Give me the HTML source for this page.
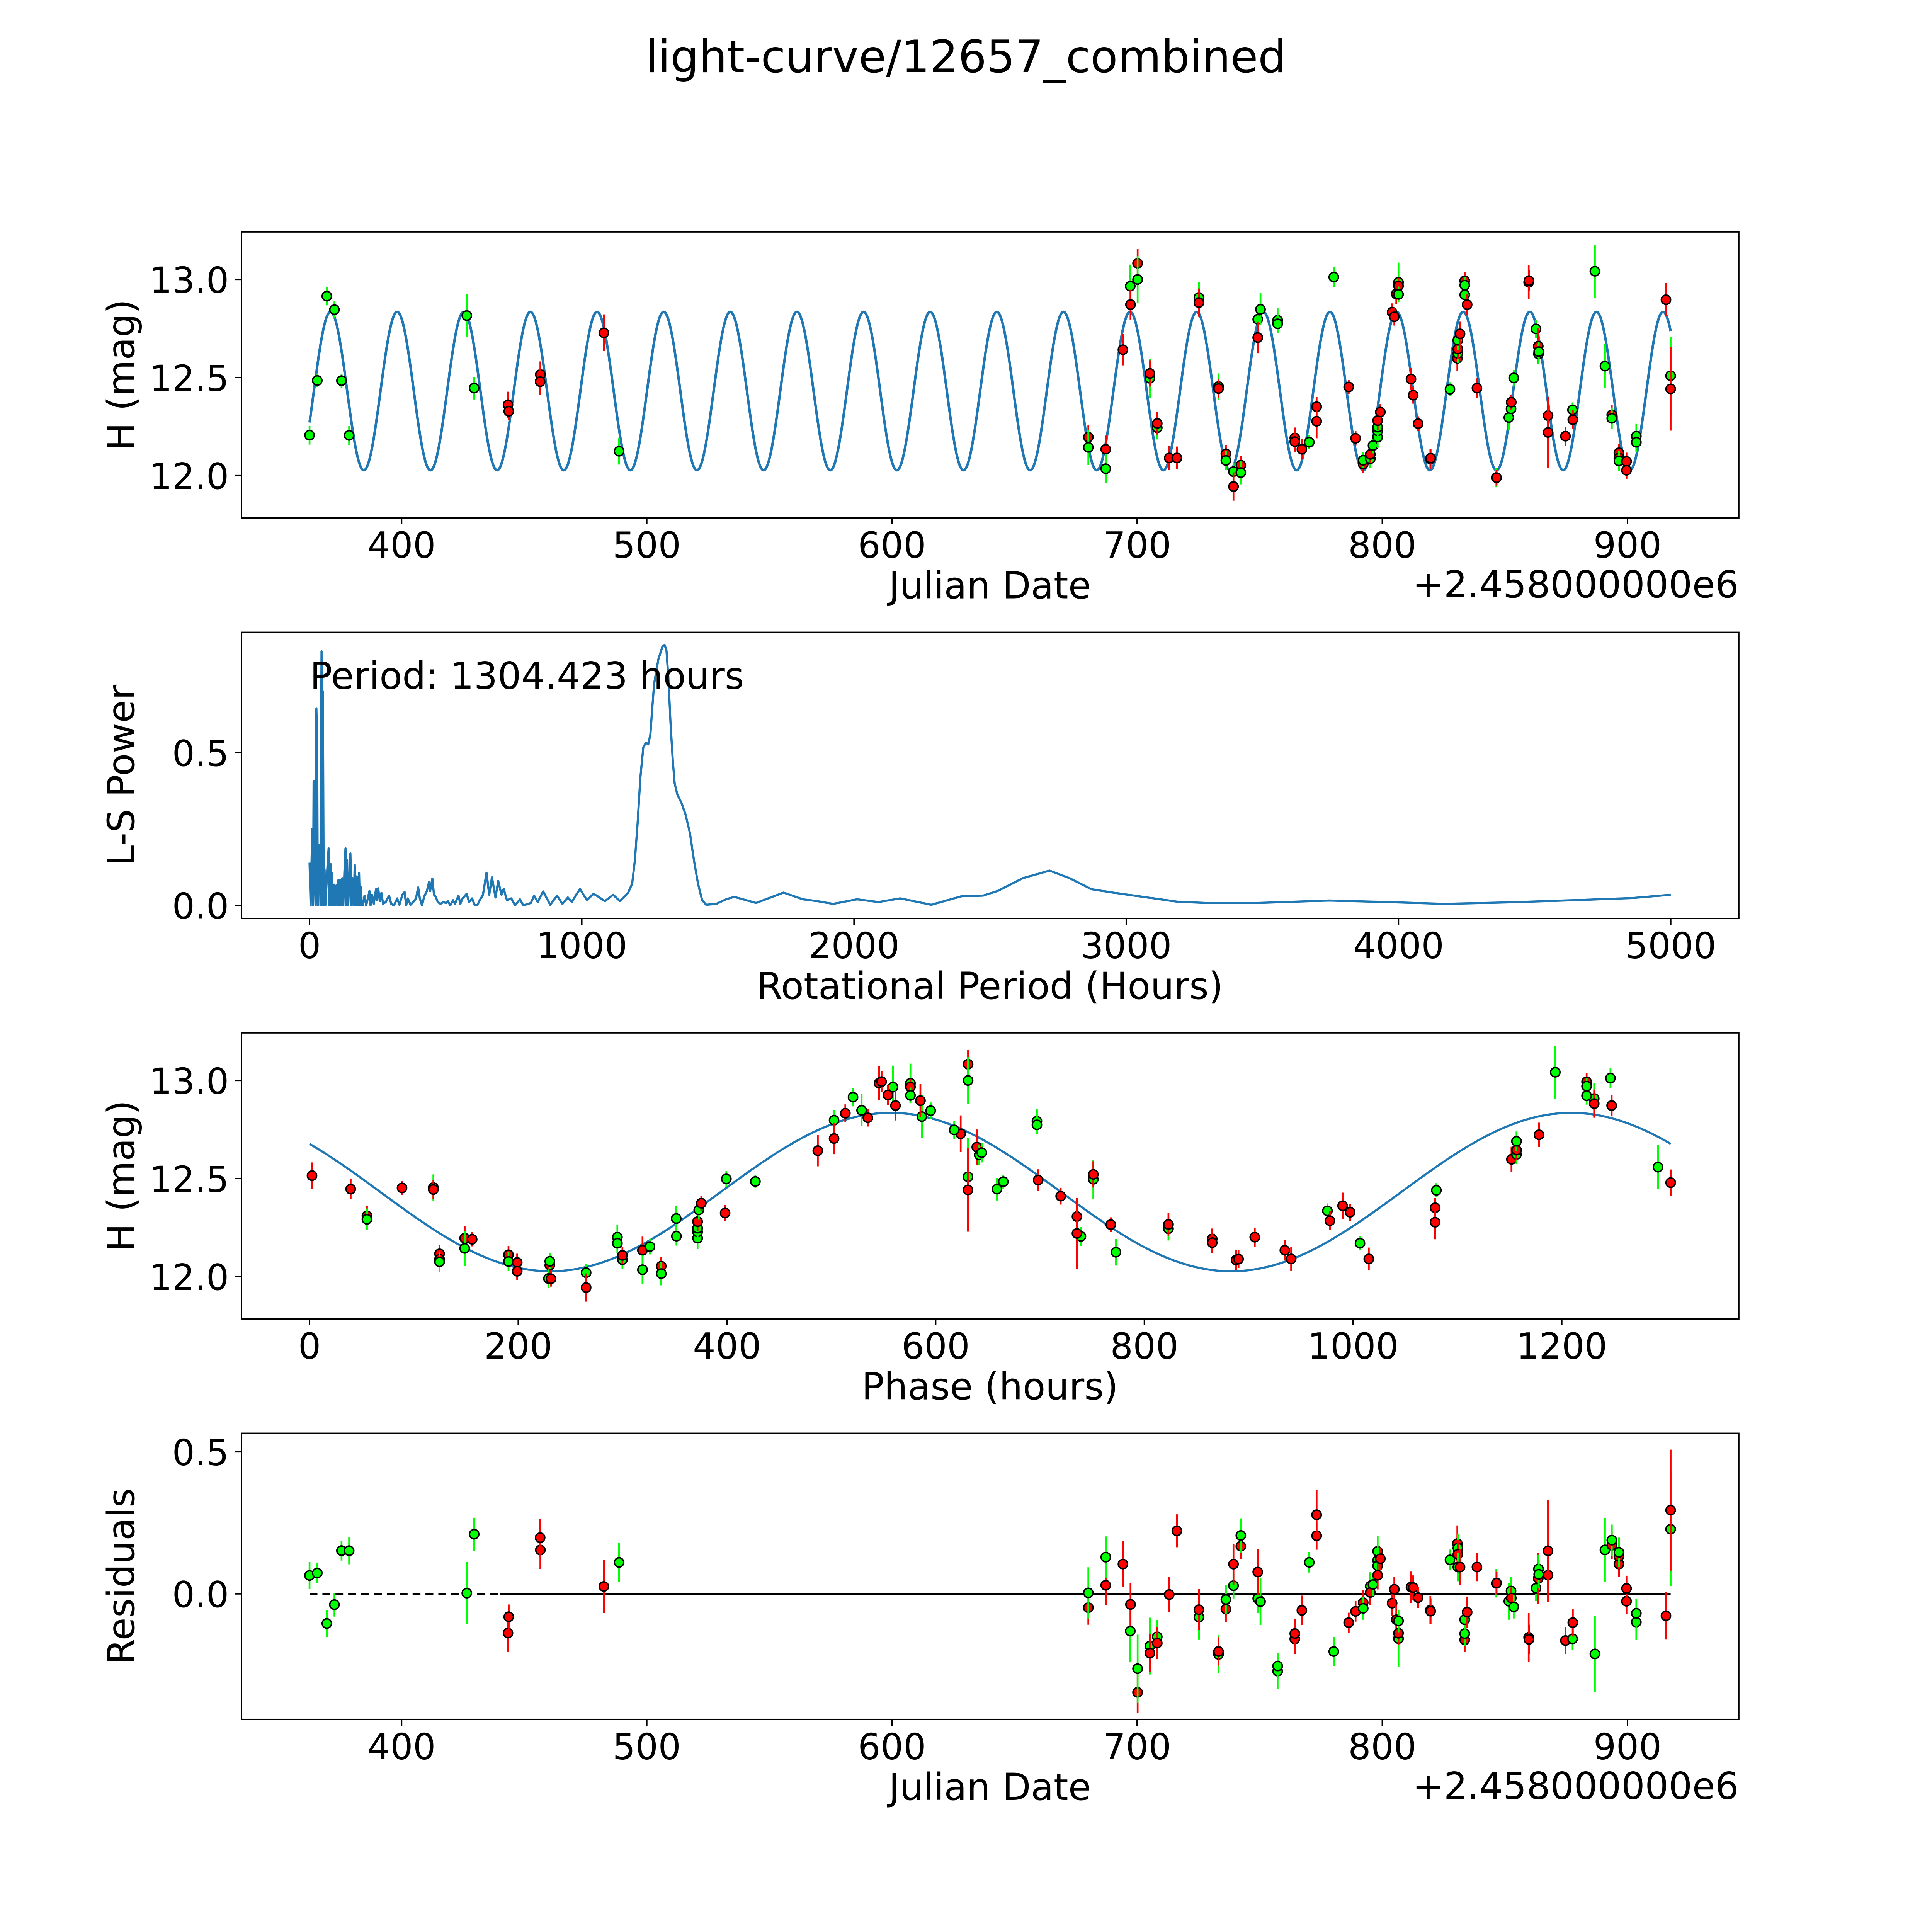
<!DOCTYPE html>
<html><head><meta charset="utf-8"><style>
html,body{margin:0;padding:0;background:#fff;overflow:hidden;width:100%;height:100%;}
svg{display:block;width:100vw;height:100vh;}
text{font-family:"DejaVu Sans","Liberation Sans",sans-serif;fill:#000;}
</style></head><body>
<svg id="fig" xmlns="http://www.w3.org/2000/svg" viewBox="0 0 5400 5400" preserveAspectRatio="xMidYMid meet">
<rect x="0" y="0" width="5400" height="5400" fill="#fff"/>
<text x="2700" y="202" font-size="125" text-anchor="middle">light-curve/12657_combined</text>
</svg>
<script>
// ---- light curve data (JD offset from 2458000) ----
const jd = [362.45,365.6,369.5,372.6,375.5,378.6,426.6,429.6,443.4,443.7,456.6,456.5,482.5,488.7,
680.1,680.1,687.2,687.2,694.2,697.2,697.3,700.2,700.2,705.2,705.2,708.2,708.2,713.1,716.2,725.2,725.2,
733.2,733.2,736.2,736.2,739.3,739.3,742.3,742.3,749.2,749.2,750.3,757.3,757.3,764.3,764.3,767.2,770.2,
773.2,773.2,780.2,786.3,789.1,792.2,792.2,795.1,795.1,796.2,798.1,798.1,798.1,798.1,799.2,804.0,804.9,
805.7,806.6,806.6,806.6,811.7,812.6,814.6,819.6,819.7,827.6,830.6,830.8,830.8,830.8,831.7,833.6,833.6,
833.6,834.6,838.6,846.5,846.6,851.6,852.5,852.6,853.6,859.7,859.8,862.7,863.6,863.7,863.8,867.6,867.6,
874.7,877.6,877.7,886.7,890.8,893.6,893.6,896.5,896.5,896.5,899.6,899.6,903.6,903.6,915.7,917.6,917.6];
const mag = [12.206,12.485,12.915,12.846,12.484,12.205,12.816,12.446,12.361,12.328,12.515,12.479,12.728,12.124,
12.196,12.144,12.134,12.035,12.642,12.966,12.872,13.083,13.0,12.496,12.521,12.244,12.266,12.09,12.09,12.908,12.882,
12.454,12.444,12.111,12.077,12.02,11.944,12.053,12.015,12.797,12.704,12.848,12.792,12.774,12.192,12.173,12.134,12.17,
12.351,12.277,13.012,12.452,12.19,12.058,12.078,12.086,12.108,12.153,12.196,12.228,12.247,12.28,12.324,12.833,12.81,
12.926,12.986,12.967,12.924,12.492,12.41,12.265,12.085,12.089,12.44,12.598,12.623,12.645,12.69,12.723,12.993,12.971,
12.922,12.872,12.446,11.99,11.989,12.296,12.34,12.374,12.498,12.986,12.994,12.748,12.66,12.62,12.632,12.306,12.22,
12.201,12.335,12.285,13.042,12.558,12.31,12.292,12.116,12.089,12.075,12.072,12.027,12.201,12.17,12.897,12.509,12.442];
const magErr = [0.048,0.034,0.047,0.042,0.035,0.048,0.11,0.058,0.067,0.043,0.067,0.067,0.094,0.068,
0.06,0.09,0.07,0.073,0.08,0.11,0.076,0.073,0.12,0.1,0.067,0.06,0.057,0.062,0.058,0.08,0.072,
0.067,0.05,0.045,0.05,0.045,0.072,0.045,0.06,0.052,0.08,0.082,0.064,0.046,0.053,0.052,0.052,0.036,
0.049,0.087,0.051,0.035,0.036,0.043,0.04,0.049,0.045,0.04,0.055,0.05,0.05,0.05,0.04,0.045,0.045,
0.05,0.1,0.04,0.04,0.055,0.043,0.037,0.05,0.045,0.036,0.064,0.05,0.05,0.05,0.062,0.043,0.043,
0.045,0.055,0.05,0.05,0.04,0.065,0.05,0.037,0.041,0.086,0.052,0.045,0.09,0.05,0.05,0.048,0.18,
0.048,0.038,0.049,0.134,0.112,0.048,0.055,0.046,0.045,0.052,0.045,0.045,0.063,0.05,0.084,0.2,0.213];
const band = "ggggggggrrrrrgrgrgrgrrgg" + "rgrrrgrgrrggrrggrgggrrrgrrgrrrggrggggrrrrrgrgrrrrrgrgrgrrggrrgrggrgrrgrggrrrgrggrgrrgrrggrgrrgrr";
// ---- periodogram data ----
const lsPeriod = [0,4,8,10,13,15,18,22,25,28,30,32,36,40,44,47,49,52,55,58,62,66,70,73,77,80,82,86,90,94,98,102,106,110,112,116,120,124,128,132,135,138,142,146,150,154,158,162,166,170,174,178,182,185,189,192,
196,202,208,214,220,224,230,236,244,248,252,258,264,270,280,292,300,310,322,330,341,349,355,361,371,381,391,399,405,413,421,431,439,443,451,457,463,471,481,491,501,508,517,527,534,547,554,562,577,586,597,607,617,627,637,650,660,670,683,693,705,713,725,741,755,773,785,803,813,825,838,858,884,909,929,949,964,979,994,1004,1019,1043,1060,1085,1115,1140,1170,1185,1195,1205,1215,1226,1236,1244,1252,1258,1266,1281,1296,1304,1311,1318,1326,1334,1341,1351,1366,1381,1397,1412,1427,1442,1457,1494,
1530,1560,1640,1741,1812,1865,1923,2011,2090,2170,2284,2395,2474,2527,2620,2718,2792,2872,2951,3030,3189,3295,3481,3746,3957,4169,4408,4673,4858,5000];
const lsPower = [0.14,0,0.17,0.25,0,0.408,0.148,0,0.644,0.536,0,0.154,0.199,0,0.832,0,0.7,0,0.118,0,0.065,0.13,0.187,0,0.136,0,0.107,0,0.068,0,0.065,0,0.083,0,0.083,0,0.089,0,0.107,0.187,0,0.148,0,0.089,0.17,0,0.089,0,0.133,0,0.095,0,0.107,0,0.059,0,
0,0.032,0,0.023,0.047,0,0.035,0.005,0.053,0.017,0.056,0.014,0.041,0.005,0.011,0.032,0.005,0,0.023,0.002,0.035,0.044,0,0.023,0.002,0.011,0.023,0.059,0.023,0,0.029,0.047,0.077,0.047,0.088,0.035,0.029,0.011,0.005,0.011,0.008,0.014,0,0.017,0.005,0.032,0.005,0.023,0.038,0.011,0.023,0,0.002,0.02,0.035,0.107,0.035,0.092,0.026,0.08,0.035,0.054,0.017,0.023,0,0.02,0,0.005,0.008,0.032,0.011,0.046,0.002,0.032,0.005,0.026,0.011,0.035,0.054,0.038,0.017,0.038,0.029,0.014,0.035,0.014,0.041,0.071,0.148,0.268,0.417,0.518,0.533,0.527,0.56,0.638,0.727,0.805,0.847,0.853,0.835,0.745,0.596,0.477,0.4,0.363,0.336,0.298,0.238,0.148,0.071,0.017,0.002,0.005,
0.02,0.028,0.008,0.042,0.02,0.014,0.005,0.02,0.011,0.023,0.002,0.03,0.032,0.047,0.089,0.114,0.089,0.053,0.042,0.032,0.012,0.008,0.008,0.016,0.011,0.005,0.01,0.018,0.024,0.035];
// ---- tick labels ----
const jdTicks = [400,500,600,700,800,900];
const magTicks = [12.0,12.5,13.0];
const lsXTicks = [0,1000,2000,3000,4000,5000];
const lsYTicks = [0.0,0.5];
const phaseTicks = [0,200,400,600,800,1000,1200];
const resTicks = [0.0,0.5];
// ---- model parameters ----
const foldPeriod = 1304.423, modelPeriod = 652.2115, T0 = 347.8, peakPhase = 557, modelMean = 12.431, modelAmp = 0.404;

const NS = "http://www.w3.org/2000/svg";
const svg = document.getElementById('fig');
const L = 675, W = 4185, H = 799.6;
const tops = [648, 1767.4, 2886.8, 4006.2];
function el(tag, attrs, parent){ const e=document.createElementNS(NS,tag); for(const k in attrs) e.setAttribute(k,attrs[k]); (parent||svg).appendChild(e); return e; }
const xJ = v => L + (v-334.7)/(945.4-334.7)*W;
const yM = (v,t) => t + (13.243-v)/(13.243-11.784)*H;
const xLS = v => L + (v+250)/5500*W;
const yLS = v => tops[1] + (0.894-v)/(0.894+0.0426)*H;
const xPh = v => L + (v+65.22)/1434.86*W;
const yR = v => tops[3] + (0.565-v)/1.007*H;
function model(t){ return modelMean + modelAmp*Math.cos(2*Math.PI*((t-T0)*24 - peakPhase)/modelPeriod); }
function modelPh(p){ return modelMean + modelAmp*Math.cos(2*Math.PI*(p - peakPhase)/modelPeriod); }
const colOf = c => c==='r' ? '#ff0000' : '#00ff00';

function clip(i){
  const cp = el('clipPath',{id:'clip'+i});
  el('rect',{x:L,y:tops[i],width:W,height:H},cp);
  const g = el('g',{'clip-path':'url(#clip'+i+')'});
  return g;
}
function frame(i, name){
  const r = el('rect',{x:L,y:tops[i],width:W,height:H,fill:'none',stroke:'#000','stroke-width':4});
  
  
}
function xticks(i, ticks, fx, fmt, name){
  const b = tops[i]+H;
  ticks.forEach(v=>{
    const x = fx(v);
    const tk = el('line',{x1:x,x2:x,y1:b,y2:b+17.5,stroke:'#000','stroke-width':4});
    
    
    const t = el('text',{x:x,y:b+111,'font-size':100,'text-anchor':'middle'});
    t.textContent = fmt(v);
    
    
  });
}
function yticks(ticks, fy, fmt, name){
  ticks.forEach(v=>{
    const y = fy(v);
    const tk = el('line',{x1:L-17.5,x2:L,y1:y,y2:y,stroke:'#000','stroke-width':4});
    
    
    const t = el('text',{x:640,y:y+37,'font-size':100,'text-anchor':'end'});
    t.textContent = fmt(v);
    
    
  });
}
function label(x,y,txt,name,rot,anchor){
  const t = el('text',{x:x,y:y,'font-size':104,'text-anchor':anchor||'middle'});
  if(rot) t.setAttribute('transform','rotate(-90 '+x+' '+y+')');
  t.textContent = txt;
  
  
}
function point(g, x, y, ylo, yhi, c, name){
  const e = el('line',{x1:x,x2:x,y1:ylo,y2:yhi,stroke:colOf(c),'stroke-width':5},g);
  
  
  const m = el('circle',{cx:x,cy:y,r:13,fill:colOf(c),stroke:'#000','stroke-width':4},g);
  
  
}
function polyline(g, pts, color, w, name, dash){
  const p = el('polyline',{points:pts.map(q=>q[0].toFixed(1)+','+q[1].toFixed(1)).join(' '),fill:'none',stroke:color,'stroke-width':w,'stroke-linejoin':'round'},g);
  if(dash) p.setAttribute('stroke-dasharray',dash);
  
  
}
const fmt1 = v => v.toFixed(1), fmt0 = v => String(v);
const jdMin = Math.min(...jd), jdMax = Math.max(...jd);

// ---- Panel 1: light curve vs JD ----
{
  const g = clip(0);
  const pts=[]; for(let i=0;i<=3000;i++){ const t=jdMin+(jdMax-jdMin)*i/3000; pts.push([xJ(t), yM(model(t),tops[0])]); }
  polyline(g, pts, '#1f77b4', 7, 'model-curve');
  jd.forEach((t,i)=> point(g, xJ(t), yM(mag[i],tops[0]), yM(mag[i]+magErr[i],tops[0]), yM(mag[i]-magErr[i],tops[0]), band[i], 'lc-'+(band[i]==='r'?'r':'g')));
  frame(0,'lightcurve-axes');
  xticks(0, jdTicks, xJ, fmt0, 'lc-x');
  yticks(magTicks, v=>yM(v,tops[0]), fmt1, 'lc-y');
  label(2767, tops[0]+H+225, 'Julian Date', 'lc-x-axis-title');
  label(4860, tops[0]+H+222, '+2.458000000e6', 'lc-x-offset', false, 'end');
  label(375, tops[0]+H/2, 'H (mag)', 'lc-y-axis-title', true);
}
// ---- Panel 2: periodogram ----
{
  const g = clip(1);
  polyline(g, lsPeriod.map((p,i)=>[xLS(p), yLS(lsPower[i])]), '#1f77b4', 6, 'periodogram-line');
  frame(1,'periodogram-axes');
  xticks(1, lsXTicks, xLS, fmt0, 'ls-x');
  yticks(lsYTicks, yLS, fmt1, 'ls-y');
  label(2767, tops[1]+H+225, 'Rotational Period (Hours)', 'ls-x-axis-title');
  label(375, tops[1]+H/2, 'L-S Power', 'ls-y-axis-title', true);
  label(866, 1925, 'Period: 1304.423 hours', 'period-annotation', false, 'start');
}
// ---- Panel 3: phased curve ----
{
  const g = clip(2);
  const pts=[]; for(let i=0;i<=1000;i++){ const p=foldPeriod*i/1000; pts.push([xPh(p), yM(modelPh(p),tops[2])]); }
  polyline(g, pts, '#1f77b4', 6, 'phase-model-curve');
  jd.forEach((t,i)=>{ let ph=((t-T0)*24)%foldPeriod; if(ph<0) ph+=foldPeriod;
    point(g, xPh(ph), yM(mag[i],tops[2]), yM(mag[i]+magErr[i],tops[2]), yM(mag[i]-magErr[i],tops[2]), band[i], 'phase'); });
  frame(2,'phase-axes');
  xticks(2, phaseTicks, xPh, fmt0, 'phase-x');
  yticks(magTicks, v=>yM(v,tops[2]), fmt1, 'phase-y');
  label(2767, tops[2]+H+225, 'Phase (hours)', 'phase-x-axis-title');
  label(375, tops[2]+H/2, 'H (mag)', 'phase-y-axis-title', true);
}
// ---- Panel 4: residuals ----
{
  const g = clip(3);
  polyline(g, [[xJ(jdMin), yR(0)],[xJ(440), yR(0)]], '#000', 5, 'zero-line-dashed', '22,14');
  polyline(g, [[xJ(440), yR(0)],[xJ(jdMax), yR(0)]], '#000', 5, 'zero-line');
  jd.forEach((t,i)=>{ const r = model(t)-mag[i];
    point(g, xJ(t), yR(r), yR(r+magErr[i]), yR(r-magErr[i]), band[i], 'residual'); });
  frame(3,'residual-axes');
  xticks(3, jdTicks, xJ, fmt0, 'res-x');
  yticks(resTicks, yR, fmt1, 'res-y');
  label(2767, tops[3]+H+225, 'Julian Date', 'res-x-axis-title');
  label(4860, tops[3]+H+222, '+2.458000000e6', 'res-x-offset', false, 'end');
  label(375, tops[3]+H/2, 'Residuals', 'res-y-axis-title', true);
}
</script>
</body></html>
